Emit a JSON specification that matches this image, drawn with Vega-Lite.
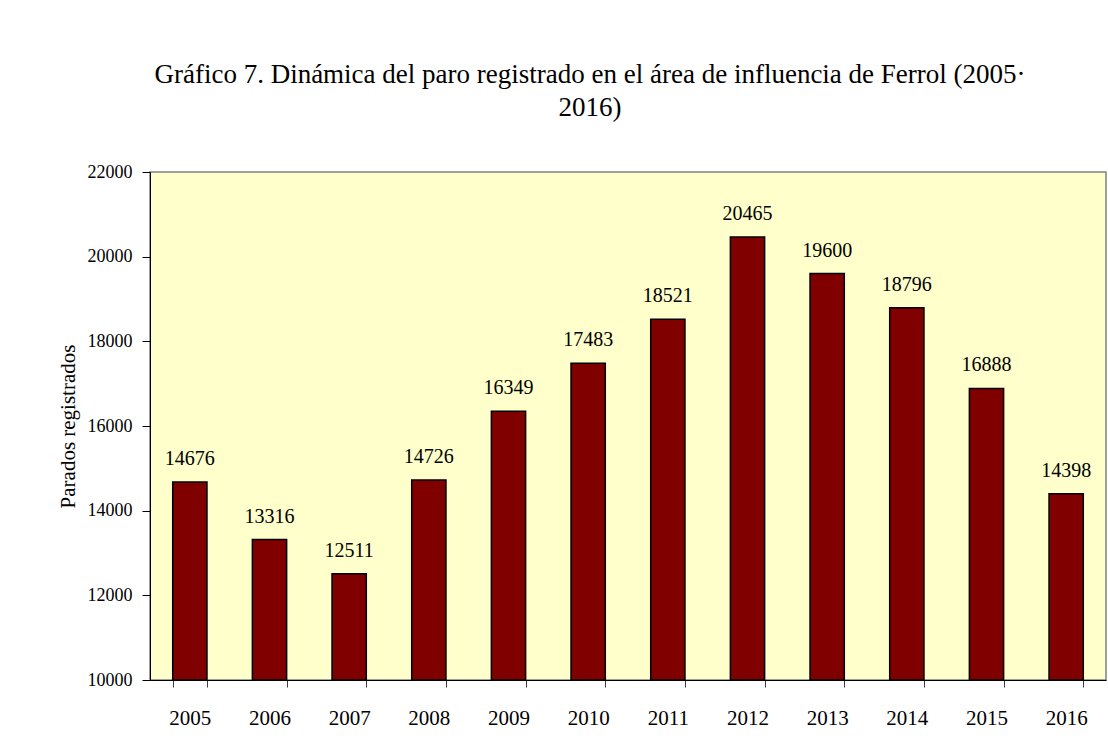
{
  "$schema": "https://vega.github.io/schema/vega-lite/v6.json",
  "width": 956,
  "height": 508,
  "autosize": {"type": "none"},
  "padding": {"left": 150, "top": 172, "right": 2, "bottom": 67},
  "background": "white",
  "title": {
    "text": ["Gráfico 7. Dinámica del paro registrado en el área de influencia de Ferrol (2005·", "2016)"],
    "font": "Liberation Serif",
    "fontSize": 27,
    "fontWeight": "normal",
    "color": "black",
    "anchor": "middle",
    "dx": -38,
    "offset": 41,
    "lineHeight": 33
  },
  "data": {
    "values": [
      {"year": "2005", "parados": 14676},
      {"year": "2006", "parados": 13316},
      {"year": "2007", "parados": 12511},
      {"year": "2008", "parados": 14726},
      {"year": "2009", "parados": 16349},
      {"year": "2010", "parados": 17483},
      {"year": "2011", "parados": 18521},
      {"year": "2012", "parados": 20465},
      {"year": "2013", "parados": 19600},
      {"year": "2014", "parados": 18796},
      {"year": "2015", "parados": 16888},
      {"year": "2016", "parados": 14398}
    ]
  },
  "encoding": {
    "x": {
      "field": "year",
      "type": "ordinal",
      "scale": {"paddingInner": 0.57, "paddingOuter": 0.285},
      "axis": {
        "title": null,
        "labelAngle": 0,
        "labelFont": "Liberation Serif",
        "labelFontSize": 21,
        "labelColor": "black",
        "labelPadding": 20,
        "domainColor": "black",
        "tickColor": "#404040",
        "tickSize": 7,
        "tickBand": "extent",
        "grid": false
      }
    },
    "y": {
      "field": "parados",
      "type": "quantitative",
      "scale": {"domain": [10000, 22000], "nice": false, "zero": false},
      "axis": {
        "title": "Parados registrados",
        "titleFont": "Liberation Serif",
        "titleFontSize": 21,
        "titleFontWeight": "normal",
        "titleColor": "black",
        "titlePadding": 9,
        "values": [10000, 12000, 14000, 16000, 18000, 20000, 22000],
        "format": "d",
        "labelFont": "Liberation Serif",
        "labelFontSize": 18,
        "labelColor": "black",
        "labelPadding": 10,
        "domainColor": "black",
        "tickColor": "black",
        "tickSize": 8,
        "grid": false
      }
    }
  },
  "layer": [
    {
      "mark": {"type": "bar", "color": "#800000", "stroke": "black", "strokeWidth": 1.5},
      "encoding": {"y2": {"datum": 10000}}
    },
    {
      "mark": {"type": "text", "baseline": "bottom", "dy": -13, "font": "Liberation Serif", "fontSize": 20, "color": "black"},
      "encoding": {"text": {"field": "parados", "type": "quantitative", "format": "d"}}
    }
  ],
  "config": {
    "font": "Liberation Serif",
    "view": {"fill": "#FFFFCC", "stroke": "#808080", "strokeWidth": 1.5}
  }
}
